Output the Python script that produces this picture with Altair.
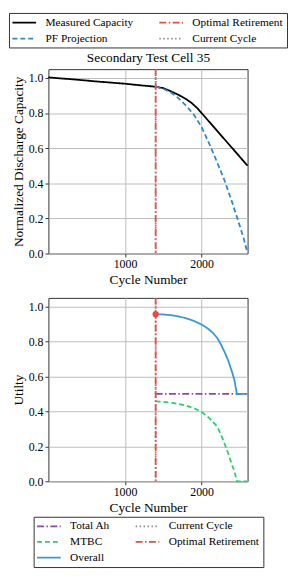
import altair as alt
import pandas as pd

FONT = "Liberation Serif"

# ---------------- top panel data ----------------
meas_cycles = [0, 200, 400, 600, 800, 1000, 1200, 1400, 1500, 1600, 1700, 1800, 1870, 1950, 2000, 2200, 2400, 2600]
meas_cap = [1.003, 0.996, 0.989, 0.981, 0.974, 0.967, 0.958, 0.950, 0.942, 0.924, 0.903, 0.879, 0.857, 0.825, 0.800, 0.700, 0.600, 0.500]

pf_cycles = [1400, 1500, 1600, 1700, 1800, 1900, 2000, 2100, 2200, 2300, 2400, 2500, 2550, 2600]
pf_cap = [0.950, 0.938, 0.917, 0.884, 0.840, 0.790, 0.720, 0.625, 0.522, 0.415, 0.290, 0.155, 0.085, 0.0]

retire_cycle = 1400
current_cycle = 1400

# ---------------- bottom panel data ----------------
ah_cycles = [1400, 2600]
total_ah = [0.5, 0.5]

mtbc_cycles = [1400, 1500, 1600, 1700, 1800, 1900, 2000, 2100, 2200, 2250, 2300, 2350, 2400, 2430, 2460, 2600]
mtbc = [0.457, 0.455, 0.450, 0.443, 0.433, 0.418, 0.397, 0.362, 0.315, 0.270, 0.215, 0.155, 0.090, 0.055, 0.0, 0.0]

overall_cycles = [1400, 1500, 1600, 1700, 1800, 1900, 2000, 2050, 2100, 2150, 2200, 2250, 2300, 2350, 2400, 2430, 2460, 2600]
overall = [0.957, 0.955, 0.951, 0.944, 0.933, 0.918, 0.897, 0.884, 0.868, 0.848, 0.823, 0.785, 0.740, 0.688, 0.622, 0.575, 0.500, 0.500]

best_utility = 0.957

# ---------------- tables ----------------
top_lines = pd.concat([
    pd.DataFrame({"cycle": meas_cycles, "value": meas_cap, "series": "Measured Capacity"}),
    pd.DataFrame({"cycle": pf_cycles, "value": pf_cap, "series": "PF Projection"}),
])
top_rules = pd.DataFrame({"cycle": [retire_cycle, current_cycle],
                          "series": ["Optimal Retirement", "Current Cycle"]})

bot_lines = pd.concat([
    pd.DataFrame({"cycle": ah_cycles, "value": total_ah, "series": "Total Ah"}),
    pd.DataFrame({"cycle": mtbc_cycles, "value": mtbc, "series": "MTBC"}),
    pd.DataFrame({"cycle": overall_cycles, "value": overall, "series": "Overall"}),
])
bot_rules = pd.DataFrame({"cycle": [current_cycle, retire_cycle],
                          "series": ["Current Cycle", "Optimal Retirement"]})
bot_dot = pd.DataFrame({"cycle": [retire_cycle], "value": [best_utility]})

SOLID = [1, 0]
DASH = [5, 3]
DASHDOT = [7, 2.5, 1.5, 2.5]
DOT = [1.5, 2.5]

# legend entries fill column by column
top_series = ["Measured Capacity", "PF Projection", "Optimal Retirement", "Current Cycle"]
top_colors = ["#000000", "#2f86c8", "#e74c3c", "#8c8c8c"]
top_dashes = [SOLID, DASH, DASHDOT, DOT]

bot_series = ["Total Ah", "MTBC", "Overall", "Current Cycle", "Optimal Retirement"]
bot_colors = ["#8e44ad", "#2ecc71", "#3498db", "#8c8c8c", "#e74c3c"]
bot_dashes = [DASHDOT, DASH, SOLID, DOT, DASHDOT]

W = 202

x_scale = alt.Scale(domain=[0, 2600], nice=False)
y_scale = alt.Scale(domain=[0, 1.05], nice=False)
x_axis = alt.Axis(values=[1000, 2000], format="d", title="Cycle Number")
title_axis = alt.Axis(orient="top", title="Secondary Test Cell 35", labels=False, ticks=False,
                      grid=False, domain=False, titlePadding=5)


def y_axis(title):
    return alt.Axis(values=[0, 0.2, 0.4, 0.6, 0.8, 1.0], format=".1f", title=title)


def make_legend(lx, ly, row_pad):
    return alt.Legend(orient="none", legendX=lx, legendY=ly, columns=2, title=None,
                      gridAlign="each",
                      symbolType="M-1.2,0H3.6", symbolSize=100, symbolStrokeWidth=1.8,
                      labelFont=FONT, labelFontSize=11.5, labelColor="black",
                      labelOffset=21.5, columnPadding=22, rowPadding=row_pad, padding=3.5,
                      strokeColor="#333333", fillColor="white", labelLimit=300)


leg_top = make_legend(-40, -57, 4.5)
leg_bot = make_legend(-15, 222, 4)

tc = alt.Scale(domain=top_series, range=top_colors)
td = alt.Scale(domain=top_series, range=top_dashes)
bc = alt.Scale(domain=bot_series, range=bot_colors)
bd = alt.Scale(domain=bot_series, range=bot_dashes)

ya_top = y_axis("Normalized Discharge Capacity")
ya_bot = y_axis("Utilty")

top_l = alt.Chart(top_lines).mark_line(strokeWidth=1.8).encode(
    x=alt.X("cycle:Q", scale=x_scale, axis=x_axis),
    y=alt.Y("value:Q", scale=y_scale, axis=ya_top),
    color=alt.Color("series:N", scale=tc, legend=leg_top),
    strokeDash=alt.StrokeDash("series:N", scale=td, legend=leg_top),
)
top_r = alt.Chart(top_rules).mark_rule(strokeWidth=1.8).encode(
    x=alt.X("cycle:Q", scale=x_scale, axis=title_axis),
    color=alt.Color("series:N", scale=tc, legend=leg_top),
    strokeDash=alt.StrokeDash("series:N", scale=td, legend=leg_top),
)
top = alt.layer(top_l, top_r).resolve_scale(x="independent").resolve_axis(
    x="independent").properties(width=W, height=187)

bot_l = alt.Chart(bot_lines).mark_line(strokeWidth=1.8).encode(
    x=alt.X("cycle:Q", scale=x_scale, axis=x_axis),
    y=alt.Y("value:Q", scale=y_scale, axis=ya_bot),
    color=alt.Color("series:N", scale=bc, legend=leg_bot),
    strokeDash=alt.StrokeDash("series:N", scale=bd, legend=leg_bot),
)
bot_r = alt.Chart(bot_rules).mark_rule(strokeWidth=1.8).encode(
    x=alt.X("cycle:Q", scale=x_scale, axis=x_axis),
    color=alt.Color("series:N", scale=bc, legend=leg_bot),
    strokeDash=alt.StrokeDash("series:N", scale=bd, legend=leg_bot),
)
bot_p = alt.Chart(bot_dot).mark_point(filled=True, size=40, opacity=1, color="#e74c3c").encode(
    x=alt.X("cycle:Q", scale=x_scale, axis=x_axis),
    y=alt.Y("value:Q", scale=y_scale, axis=ya_bot),
)
bottom = alt.layer(bot_l, bot_r, bot_p).properties(width=W, height=186)

chart = alt.vconcat(top, bottom, spacing=45, bounds="flush").resolve_scale(
    color="independent", strokeDash="independent"
).properties(
    padding={"left": 0, "top": 0, "right": 0, "bottom": 0}
).configure_view(
    stroke="#333333", strokeWidth=1
).configure_axis(
    labelFont=FONT, titleFont=FONT, labelFontSize=12, titleFontSize=13.5,
    titleFontWeight="normal", labelColor="black", titleColor="black",
    gridColor="#bdbdbd", gridWidth=1, domain=False, tickColor="#333333",
    tickSize=3.5, labelPadding=2, titlePadding=3,
).configure_legend(
    labelFont=FONT, labelFontSize=11.5, labelColor="black", gridAlign="each"
)

chart.save("out.html", embed_options={"renderer": "svg", "actions": False})
